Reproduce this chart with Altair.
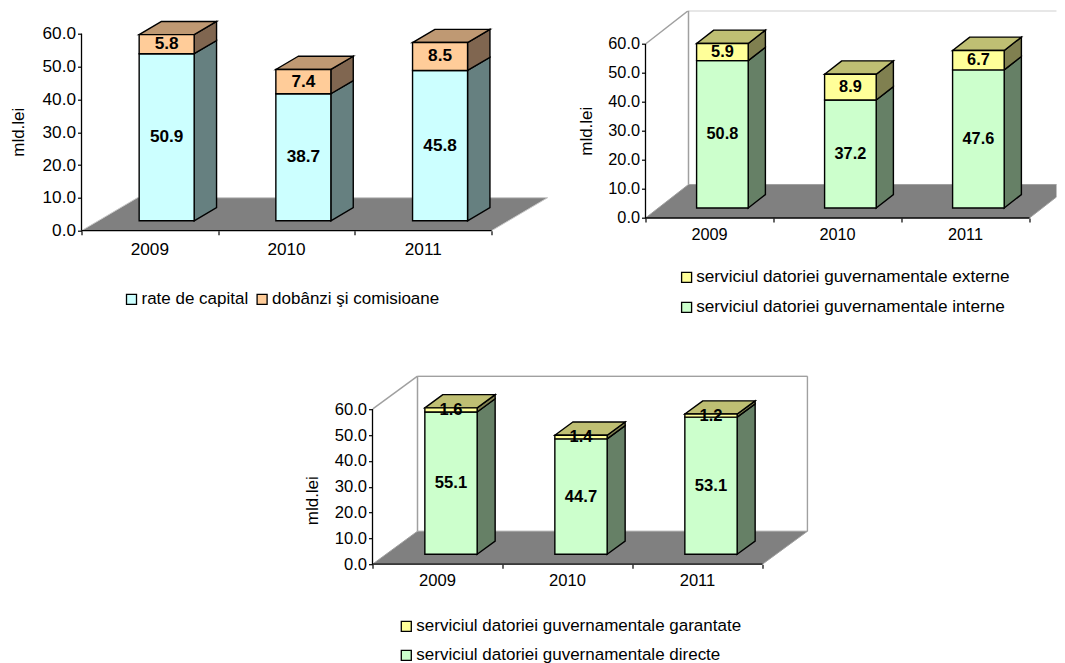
import altair as alt
import pandas as pd

FONT = "Liberation Sans"
YEARS = ["2009", "2010", "2011"]

P1_NAMES = ["rate de capital", "dobânzi şi comisioane"]
P1_LOW = [50.9, 38.7, 45.8]
P1_HIGH = [5.8, 7.4, 8.5]

P2_NAMES = ["serviciul datoriei guvernamentale externe", "serviciul datoriei guvernamentale interne"]
P2_LOW = [50.8, 37.2, 47.6]
P2_HIGH = [5.9, 8.9, 6.7]

P3_NAMES = ["serviciul datoriei guvernamentale garantate", "serviciul datoriei guvernamentale directe"]
P3_LOW = [55.1, 44.7, 53.1]
P3_HIGH = [1.6, 1.4, 1.2]

CYAN, ORANGE, GREEN, YELLOW = "#CCFFFF", "#FFCC99", "#CCFFCC", "#FFFF99"
DARK = {CYAN: "#668080", ORANGE: "#806650", GREEN: "#668066", YELLOW: "#808050"}
TOP = {ORANGE: "#BF9973", YELLOW: "#BFBF73"}
WALL = "#A0A0A0"
FLOOR = "#808080"
LW = 1.4


def panel(low, high, names, low_col, high_col, low_first, cat, ppu, dx, dy, bw, width, height,
          year_dy, walls, floor_stroke, title_x, title_y, legend, fs):
    dxu, dyu = dx / cat, dy / ppu
    hw = bw / 2 / cat
    near, far = 0.3, 0.7
    fronts, sides, tops, texts = [], [], [], []
    for i, year in enumerate(YEARS):
        c = i + 0.5 + near * dxu
        xl, xr = c - hw, c + hw
        segments = [(names[0] if low_first else names[1], low[i], 0.0, low_col),
                    (names[1] if low_first else names[0], high[i], low[i], high_col)]
        for j, (nm, v, base, col) in enumerate(segments):
            fronts.append(dict(x=xl, x2=xr, y=base + near * dyu, y2=base + v + near * dyu, series=nm))
            texts.append(dict(x=c, y=base + v / 2 + near * dyu, t=f"{v:.1f}"))
            pid = f"{i}-{j}"
            for d, yy in ((0.0, near), (far - near, far)):
                sides.append(dict(pid=pid, x=xr + d * dxu, y=base + yy * dyu,
                                  y2=base + v + yy * dyu, fill=DARK[col]))
        ytop = low[i] + high[i]
        for d, yy in ((0.0, near), (far - near, far)):
            tops.append(dict(pid=str(i), y=ytop + yy * dyu, x=xl + d * dxu, x2=xr + d * dxu, fill=TOP[high_col]))

    xmax, ymax = width / cat, height / ppu
    xs = alt.Scale(domain=[0, xmax], nice=False, zero=False)
    ys = alt.Scale(domain=[0, ymax], nice=False, zero=False)
    yaxis = alt.Axis(
        values=[0, 10, 20, 30, 40, 50, 60], format=".1f", grid=False, domain=False,
        tickColor="black", tickSize=4, tickWidth=1.2, labelFont=FONT, labelFontSize=fs,
        labelColor="black", labelPadding=2, title="mld.lei", titleFont=FONT, titleFontSize=17,
        titleFontWeight="normal", titleColor="black", titleX=title_x, titleY=title_y)
    xaxis = alt.Axis(
        values=[0, 1, 2, 3], labels=False, grid=False, domain=False, tickColor="black",
        tickSize=4, tickWidth=1.2, title=None)
    X = lambda f="x": alt.X(f"{f}:Q", scale=xs, axis=xaxis)
    Y = lambda f="y": alt.Y(f"{f}:Q", scale=ys, axis=yaxis)

    floor_df = pd.DataFrame([
        dict(y=0, x=0, x2=3), dict(y=dy / ppu, x=dxu, x2=3 + dxu)])
    floor = alt.Chart(floor_df).mark_area(orient="horizontal", fill=FLOOR, stroke=floor_stroke,
                                          strokeWidth=1, clip=True).encode(
        y=Y(), x=X(), x2="x2:Q")

    layers = [floor]
    if walls:
        wall_rows = []
        top_y = 60 + dyu
        segs = [((0, 60), (dxu, top_y)), ((dxu, top_y), (3 + dxu, top_y)),
                ((dxu, dyu), (dxu, top_y)), ((3 + dxu, dyu), (3 + dxu, top_y))]
        for k, (a, b) in enumerate(segs):
            wall_rows += [dict(k=k, o=0, x=a[0], y=a[1]), dict(k=k, o=1, x=b[0], y=b[1])]
        layers.append(alt.Chart(pd.DataFrame(wall_rows)).mark_line(color=WALL, strokeWidth=1.5, clip=True).encode(
            x=X(), y=Y(), detail="k:N", order="o:Q"))

    axis_rows = [dict(k=0, o=0, x=0, y=0), dict(k=0, o=1, x=3, y=0),
                 dict(k=1, o=0, x=0, y=0), dict(k=1, o=1, x=0, y=60)]
    layers.append(alt.Chart(pd.DataFrame(axis_rows)).mark_line(color="black", strokeWidth=1.3).encode(
        x=X(), y=Y(), detail="k:N", order="o:Q"))

    layers.append(alt.Chart(pd.DataFrame(sides)).mark_area(orient="vertical", stroke="black", strokeWidth=LW).encode(
        x=X(), y=Y(), y2="y2:Q", detail="pid:N", fill=alt.Fill("fill:N", scale=None)))
    layers.append(alt.Chart(pd.DataFrame(tops)).mark_area(orient="horizontal", stroke="black", strokeWidth=LW).encode(
        y=Y(), x=X(), x2="x2:Q", detail="pid:N", fill=alt.Fill("fill:N", scale=None)))
    layers.append(alt.Chart(pd.DataFrame(fronts)).mark_rect(stroke="black", strokeWidth=LW).encode(
        x=X(), x2="x2:Q", y=Y(), y2="y2:Q",
        fill=alt.Fill("series:N", scale=alt.Scale(
            domain=names, range=[low_col, high_col] if low_first else [high_col, low_col]),
            legend=legend)))
    layers.append(alt.Chart(pd.DataFrame(texts)).mark_text(
        font=FONT, fontSize=fs, fontWeight="bold", color="black", baseline="middle").encode(
        x=X(), y=Y(), text="t:N"))
    years_df = pd.DataFrame(dict(x=[i + 0.5 for i in range(3)], y=[0, 0, 0], t=YEARS))
    layers.append(alt.Chart(years_df).mark_text(
        font=FONT, fontSize=fs, color="black", baseline="middle", dy=year_dy).encode(
        x=X(), y=Y(), text="t:N"))
    return alt.layer(*layers).properties(width=width, height=height)


def legend(x, y, size, horizontal=False, offset=1.5, row=12):
    kw = dict(direction="horizontal", columns=2, columnPadding=4.6) if horizontal else dict(direction="vertical", columns=1, rowPadding=row)
    return alt.Legend(title=None, orient="none", legendX=x, legendY=y, symbolType="square", symbolSize=100,
                      symbolStrokeColor="black", symbolStrokeWidth=1.3, labelFont=FONT, labelFontSize=size,
                      labelLimit=500, labelColor="black", labelOffset=offset, **kw)


p1 = panel(P1_LOW, P1_HIGH, P1_NAMES, CYAN, ORANGE, True, cat=136.7, ppu=3.283, dx=56, dy=33, bw=55,
           width=469, height=220, year_dy=19, walls=False, floor_stroke="#C8C8C8",
           title_x=-54, title_y=121, legend=legend(41.5, 280, 17, True), fs=17.2)
p2 = panel(P2_LOW, P2_HIGH, P2_NAMES, GREEN, YELLOW, False, cat=128, ppu=2.9, dx=43, dy=33.5, bw=51.6,
           width=411, height=207.3, year_dy=17, walls=True, floor_stroke=WALL,
           title_x=-50, title_y=120, legend=legend(32.5, 258, 17.2, offset=1), fs=16.3)
p3 = panel(P3_LOW, P3_HIGH, P3_NAMES, GREEN, YELLOW, False, cat=130, ppu=2.583, dx=45, dy=33, bw=52.3,
           width=436, height=189, year_dy=17, walls=True, floor_stroke=WALL,
           title_x=-51.5, title_y=125, legend=legend(25.3, 242.7, 17, row=11), fs=16.6)

spacer = alt.Chart(pd.DataFrame(dict(x=[0]))).mark_point(opacity=0).encode(
    x=alt.X("x:Q", axis=None), y=alt.Y("x:Q", axis=None)).properties(width=100, height=10)

row1 = alt.hconcat(p1, p2, spacing=95, bounds="flush").resolve_scale(fill="independent")
row2 = alt.hconcat(spacer, p3, spacing=191, bounds="flush").resolve_scale(fill="independent")
chart = alt.vconcat(row1, row2, spacing=364.5, bounds="flush").resolve_scale(fill="independent").properties(
    padding=dict(left=1.5, top=2.7, right=0, bottom=0), background="white"
).configure_view(stroke=None)

chart.save("out.html", embed_options={"renderer": "svg", "actions": False})
